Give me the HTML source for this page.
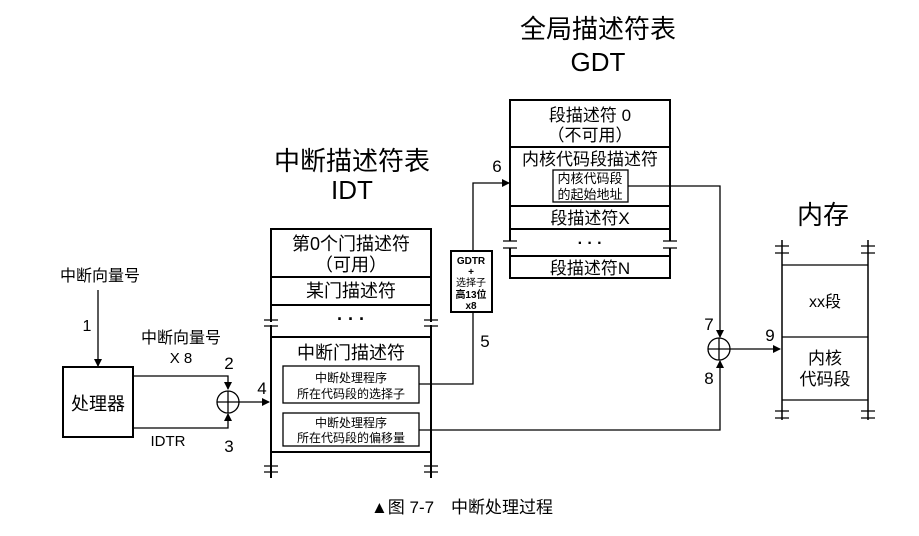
<!DOCTYPE html>
<html><head><meta charset="utf-8"><style>
body{margin:0;background:#fff}
text{font-family:"Liberation Sans","Noto Sans CJK SC",sans-serif;fill:#000}
</style></head><body>
<svg width="919" height="531" viewBox="0 0 919 531" xmlns="http://www.w3.org/2000/svg">
<defs><marker id="a" markerWidth="8" markerHeight="8" refX="7" refY="4" orient="auto" markerUnits="userSpaceOnUse"><path d="M0,0 L8,4 L0,8z" fill="#000"/></marker></defs>
<g stroke="#000" fill="none" stroke-width="1.3">
<rect x="63" y="367" width="70" height="70" stroke-width="2"/>
<line x1="98" y1="290" x2="98" y2="366" marker-end="url(#a)"/>
<polyline points="133,376 228,376 228,389" marker-end="url(#a)"/>
<polyline points="133,428 228,428 228,414" marker-end="url(#a)"/>
<circle cx="228" cy="402" r="11"/>
<line x1="217" y1="402" x2="239" y2="402"/><line x1="228" y1="391" x2="228" y2="413"/>
<line x1="239" y1="402" x2="269" y2="402" marker-end="url(#a)"/>
<path d="M271,322 V229 H431 V322 M271,325 V478 M431,325 V478" stroke-width="2"/>
<line x1="271" y1="277" x2="431" y2="277" stroke-width="2"/>
<line x1="271" y1="305" x2="431" y2="305" stroke-width="2"/>
<line x1="271" y1="337" x2="431" y2="337" stroke-width="2"/>
<line x1="271" y1="452" x2="431" y2="452" stroke-width="2"/>
<path d="M264,320 H278 M264,326 H278 M424,320 H438 M424,326 H438 M264,466 H278 M264,472 H278 M424,466 H438 M424,472 H438"/>
<rect x="283" y="366" width="136" height="37"/>
<rect x="283" y="413" width="136" height="33"/>
<polyline points="419,384 473,384 473,312"/>
<rect x="451" y="251" width="41" height="61" stroke-width="2"/>
<polyline points="473,251 473,183 509,183" marker-end="url(#a)"/>
<polyline points="419,430 720,430 720,361" marker-end="url(#a)"/>
<path d="M510,241 V100 H670 V241 M510,248 V278 H670 V248" stroke-width="2"/>
<line x1="510" y1="147" x2="670" y2="147" stroke-width="2"/>
<line x1="510" y1="206" x2="670" y2="206" stroke-width="2"/>
<line x1="510" y1="229" x2="670" y2="229" stroke-width="2"/>
<line x1="510" y1="256" x2="670" y2="256" stroke-width="2"/>
<path d="M503,241 H517 M503,248 H517 M663,241 H677 M663,248 H677"/>
<rect x="553" y="170" width="75" height="32"/>
<polyline points="628,186 720,186 720,337" marker-end="url(#a)"/>
<circle cx="719" cy="349" r="11"/>
<line x1="708" y1="349" x2="730" y2="349"/><line x1="719" y1="338" x2="719" y2="360"/>
<line x1="730" y1="349" x2="780" y2="349" marker-end="url(#a)"/>
<path d="M782,240 V420 M868,240 V420" stroke-width="1.5"/>
<path d="M775,246 H789 M775,253 H789 M861,246 H875 M861,253 H875 M775,411 H789 M775,418 H789 M861,411 H875 M861,418 H875"/>
<line x1="782" y1="265" x2="868" y2="265"/>
<line x1="782" y1="337" x2="868" y2="337"/>
<line x1="782" y1="400" x2="868" y2="400"/>
</g>
<g text-anchor="middle">
<text x="100" y="281" font-size="16">中断向量号</text>
<text x="87" y="331" font-size="16">1</text>
<text x="98" y="410" font-size="18">处理器</text>
<text x="181" y="343" font-size="16">中断向量号</text>
<text x="181" y="363" font-size="15">X 8</text>
<text x="168" y="446" font-size="15">IDTR</text>
<text x="229" y="369" font-size="17">2</text>
<text x="229" y="452" font-size="17">3</text>
<text x="262" y="394" font-size="17">4</text>
<text x="352" y="170" font-size="26">中断描述符表</text>
<text x="352" y="199" font-size="26">IDT</text>
<text x="351" y="250" font-size="18">第0个门描述符</text>
<text x="351" y="271" font-size="18">（可用）</text>
<text x="351" y="297" font-size="18">某门描述符</text>
<text x="351" y="325" font-size="18" font-weight="bold">· · ·</text>
<text x="351" y="359" font-size="18">中断门描述符</text>
<text x="351" y="382" font-size="12">中断处理程序</text>
<text x="351" y="398" font-size="12">所在代码段的选择子</text>
<text x="351" y="427" font-size="12">中断处理程序</text>
<text x="351" y="442" font-size="12">所在代码段的偏移量</text>
<text x="471" y="264" font-size="10" font-weight="bold">GDTR</text>
<text x="471" y="275" font-size="10" font-weight="bold">+</text>
<text x="471" y="286" font-size="10">选择子</text>
<text x="471" y="298" font-size="10" font-weight="bold">高13位</text>
<text x="471" y="309" font-size="10" font-weight="bold">x8</text>
<text x="485" y="347" font-size="17">5</text>
<text x="497" y="172" font-size="17">6</text>
<text x="598" y="38" font-size="26">全局描述符表</text>
<text x="598" y="71" font-size="26">GDT</text>
<text x="590" y="121" font-size="17">段描述符 0</text>
<text x="590" y="141" font-size="17">（不可用）</text>
<text x="590" y="165" font-size="17">内核代码段描述符</text>
<text x="590" y="183" font-size="13">内核代码段</text>
<text x="590" y="199" font-size="13">的起始地址</text>
<text x="590" y="224" font-size="17">段描述符X</text>
<text x="590" y="248" font-size="16" font-weight="bold">· · ·</text>
<text x="590" y="274" font-size="17">段描述符N</text>
<text x="709" y="330" font-size="17">7</text>
<text x="709" y="384" font-size="17">8</text>
<text x="770" y="341" font-size="17">9</text>
<text x="823" y="224" font-size="26">内存</text>
<text x="825" y="307" font-size="16">xx段</text>
<text x="825" y="364" font-size="17">内核</text>
<text x="825" y="385" font-size="17">代码段</text>
<text x="462" y="513" font-size="17">▲图 7-7　中断处理过程</text>
</g>
</svg>
</body></html>
